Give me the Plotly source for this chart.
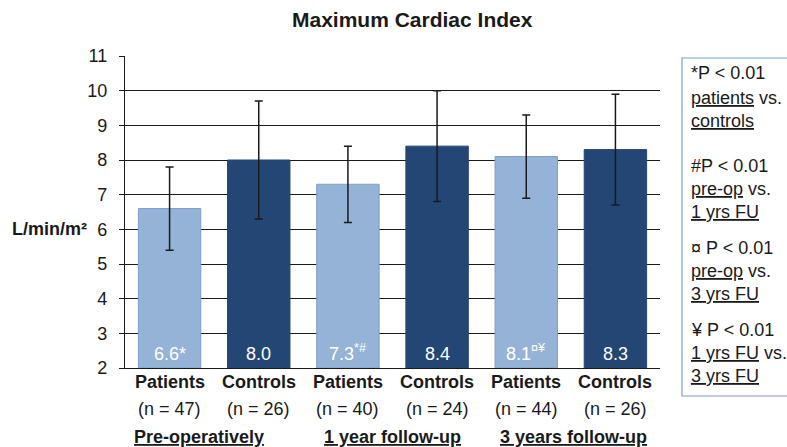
import plotly.graph_objects as go

# ---- data ----
groups = ["Patients", "Controls", "Patients", "Controls", "Patients", "Controls"]
n_labels = ["(n = 47)", "(n = 26)", "(n = 40)", "(n = 24)", "(n = 44)", "(n = 26)"]
values = [6.6, 8.0, 7.3, 8.4, 8.1, 8.3]
errors = [1.2, 1.7, 1.1, 1.6, 1.2, 1.6]
value_labels = ["6.6*", "8.0", "7.3<sup>*#</sup>", "8.4", "8.1<sup>¤¥</sup>", "8.3"]
period_labels = ["Pre-operatively", "1 year follow-up", "3 years follow-up"]
y_ticks = [2, 3, 4, 5, 6, 7, 8, 9, 10, 11]
legend_lines = [
    "*P < 0.01", "<u>patients</u> vs.", "<u>controls</u>",
    "#P < 0.01", "<u>pre-op</u> vs.", "<u>1 yrs FU</u>",
    "¤ P < 0.01", "<u>pre-op</u> vs.", "<u>3 yrs FU</u>",
    "¥ P < 0.01", "<u>1 yrs FU</u> vs.", "<u>3 yrs FU</u>",
]

LIGHT = "#95B3D7"
DARK = "#244675"
FONT = "Arial, Liberation Sans, sans-serif"

W, H = 787, 447
L, R, T, B = 125, 127, 56, 79
PW, PH = W - L - R, H - T - B

def py(p):  # pixel y -> paper
    return (H - B - p) / PH

def px(p):  # pixel x -> paper
    return (p - L) / PW

xs = list(range(len(values)))
colors = [LIGHT if g == "Patients" else DARK for g in groups]
line_colors = ["#7F9FCB" if g == "Patients" else DARK for g in groups]

fig = go.Figure()
fig.add_trace(go.Bar(
    x=xs, y=[v - 2 for v in values], base=2,
    marker=dict(color=colors, line=dict(color=line_colors, width=1)),
    error_y=dict(type="data", array=errors, visible=True, color="#1a1a1a",
                 thickness=1.5, width=4),
    hoverinfo="skip",
))

annotations = []
# value labels inside bars
for x, t in zip(xs, value_labels):
    annotations.append(dict(x=x, y=0, xref="x", yref="paper", text=t,
                            showarrow=False, yanchor="bottom", yshift=2,
                            font=dict(family=FONT, size=18, color="white")))
# category rows
for x, g, n in zip(xs, groups, n_labels):
    annotations.append(dict(x=x, y=py(382), xref="x", yref="paper",
                            text=f"<b>{g}</b>", showarrow=False, yanchor="middle",
                            font=dict(family=FONT, size=18, color="#1a1a1a")))
    annotations.append(dict(x=x, y=py(409), xref="x", yref="paper",
                            text=n, showarrow=False, yanchor="middle",
                            font=dict(family=FONT, size=18, color="#1a1a1a")))
# period labels
shifts = [-15, 0, 3]
for i, (p, s) in enumerate(zip(period_labels, shifts)):
    annotations.append(dict(x=2 * i + 0.5, y=py(437), xref="x", yref="paper",
                            text=f"<b><u>{p}</u></b>", showarrow=False,
                            yanchor="middle", xshift=s,
                            font=dict(family=FONT, size=18, color="#1a1a1a")))
# title
annotations.append(dict(x=px(412), y=py(20), xref="paper", yref="paper",
                        text="<b>Maximum Cardiac Index</b>", showarrow=False,
                        yanchor="middle", xanchor="center",
                        font=dict(family=FONT, size=21, color="#1a1a1a")))
# y axis title
annotations.append(dict(x=px(49), y=py(229), xref="paper", yref="paper",
                        text="<b>L/min/m²</b>", showarrow=False,
                        yanchor="middle", xanchor="center",
                        font=dict(family=FONT, size=18, color="#1a1a1a")))
# legend box text
row_y = [73, 98, 121, 166, 189, 212, 248, 271, 294, 330, 353, 376]
for t, yy in zip(legend_lines, row_y):
    annotations.append(dict(x=px(689), y=py(yy), xref="paper", yref="paper",
                            text=t, showarrow=False, xanchor="left",
                            yanchor="middle",
                            font=dict(family=FONT, size=18, color="#1a1a1a")))

fig.update_layout(
    width=W, height=H,
    margin=dict(l=L, r=R, t=T, b=B, pad=0),
    paper_bgcolor="white", plot_bgcolor="white",
    showlegend=False, bargap=0.30,
    annotations=annotations,
    shapes=[dict(type="rect", xref="paper", yref="paper",
                 x0=px(682), x1=px(800), y0=py(396), y1=py(58),
                 line=dict(color="#7F9FCB", width=1.2), fillcolor="rgba(0,0,0,0)")],
    xaxis=dict(range=[-0.5, 5.5], showticklabels=False, ticks="",
               showgrid=False, zeroline=False, showline=True,
               linecolor="#1a1a1a", linewidth=1.3, fixedrange=True),
    yaxis=dict(range=[2, 11], tickvals=y_ticks, ticks="outside", ticklen=5,
               tickcolor="#1a1a1a", tickwidth=1.3, ticklabelstandoff=8,
               showgrid=True, gridcolor="#1a1a1a", gridwidth=1.2,
               zeroline=False, showline=True, linecolor="#1a1a1a", linewidth=1.3,
               tickfont=dict(family=FONT, size=18, color="#1a1a1a"),
               fixedrange=True),
)

fig.write_html("out.html", config={"displayModeBar": False},
               post_script="document.body.style.margin='0';document.body.style.overflow='hidden';")
